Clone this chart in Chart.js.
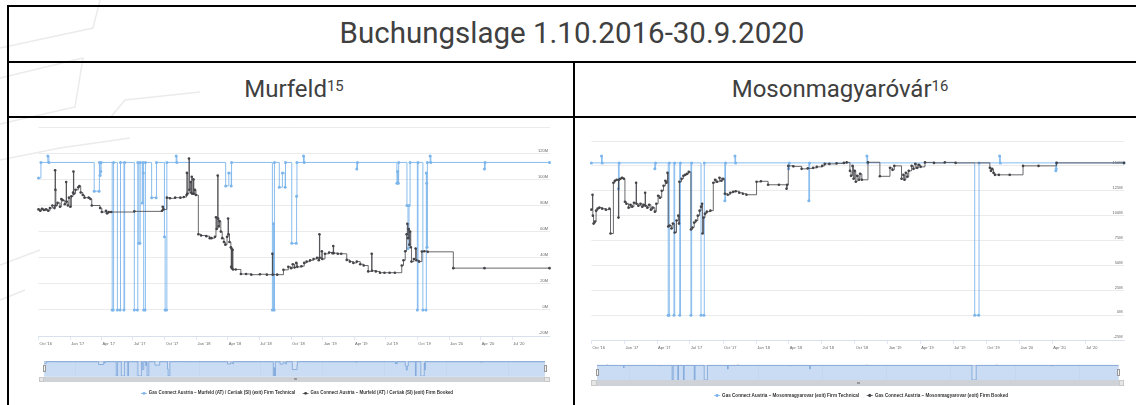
<!DOCTYPE html>
<html><head><meta charset="utf-8">
<script src="https://cdn.jsdelivr.net/npm/chart.js@4/dist/chart.umd.min.js"></script>
<style>
html,body{margin:0;padding:0;background:#fff;}
body{width:1136px;height:405px;position:relative;overflow:hidden;}
.bl{position:absolute;background:#000;}
.txt{position:absolute;white-space:nowrap;color:#404040;font-family:Roboto,'Liberation Sans',sans-serif;}
.txt sup{font-size:0.62em;position:relative;top:-0.42em;vertical-align:baseline;}
canvas{position:absolute;}
.mask{position:absolute;background:#d4e2f4;border-top:0.6px solid #b8c8de;box-sizing:border-box;}
.handle{position:absolute;background:#f2f2f2;border:0.5px solid #999;box-sizing:border-box;}
.sbar{position:absolute;background:#cfd2d6;}
.sbtn{position:absolute;background:#e6e6e6;border:0.5px solid #c8c8c8;box-sizing:border-box;}
.grip{position:absolute;width:0.5px;height:2.2px;background:#999;}
.legend{position:absolute;white-space:nowrap;font:bold 12px 'Liberation Sans',Arial,sans-serif;color:#333;transform-origin:0 50%;}
.legend .sym{display:inline-block;position:relative;width:16px;height:12px;vertical-align:middle;margin-right:5px;}
.legend .sym i{position:absolute;left:0;top:5px;width:16px;height:2px;}
.legend .sym b{position:absolute;left:4px;top:2px;width:8px;height:8px;border-radius:50%;}
</style>
</head><body>
<svg style="position:absolute;left:0;top:0" width="1136" height="405">
  <g fill="none" stroke="#ebebeb" stroke-width="1.5">
    <polyline points="0,48 93,28 100,0"/>
    <polyline points="0,78 83,58 75,107 0,124"/>
    <polyline points="0,160 60,148 130,138"/>
    <polyline points="110,118 125,100 200,92"/>
    <polyline points="0,265 40,250"/>
    <polyline points="0,300 25,290"/>
  </g>
</svg>
<div class="bl" style="left:7px;top:5px;width:1129px;height:2px"></div>
<div class="bl" style="left:7px;top:60.5px;width:1129px;height:2px"></div>
<div class="bl" style="left:7px;top:116px;width:1129px;height:2px"></div>
<div class="bl" style="left:7px;top:5px;width:2px;height:400px"></div>
<div class="bl" style="left:572.5px;top:61px;width:2px;height:344px"></div>

<div class="txt" id="t0" style="font-size:29.5px;">Buchungslage 1.10.2016-30.9.2020</div>
<div class="txt" id="t1" style="font-size:24px;">Murfeld<sup>15</sup></div>
<div class="txt" id="t2" style="font-size:24px;">Mosonmagyaróvár<sup>16</sup></div>

<canvas id="mainL" width="530" height="240" style="left:30px;top:117px;width:530px;height:240px"></canvas>
<canvas id="mainR" width="556" height="230" style="left:580px;top:131px;width:556px;height:230px"></canvas>

<div class="mask" style="left:44px;top:361px;width:501px;height:15.5px"></div>
<div class="mask" style="left:597px;top:364.5px;width:521.5px;height:15.5px"></div>
<canvas id="navL" width="518" height="22" style="left:38px;top:355px;width:518px;height:22px"></canvas>
<canvas id="navR" width="540" height="22" style="left:590px;top:359px;width:540px;height:22px"></canvas>

<div class="handle" style="left:42.5px;top:365px;width:3px;height:7px"></div>
<div class="handle" style="left:543.5px;top:365px;width:3px;height:7px"></div>
<div class="handle" style="left:595.5px;top:368.5px;width:3px;height:7px"></div>
<div class="handle" style="left:1117px;top:368.5px;width:3px;height:7px"></div>

<div class="sbar" style="left:38.5px;top:376.5px;width:511px;height:5.5px"></div>
<div class="sbtn" style="left:38.5px;top:376.5px;width:5.5px;height:5.5px"></div>
<div class="sbtn" style="left:544px;top:376.5px;width:5.5px;height:5.5px"></div>
<div class="grip" style="left:293.5px;top:378.2px"></div><div class="grip" style="left:294.7px;top:378.2px"></div><div class="grip" style="left:295.9px;top:378.2px"></div>
<div class="sbar" style="left:591.4px;top:380px;width:532.6px;height:5.5px"></div>
<div class="sbtn" style="left:591.4px;top:380px;width:5.5px;height:5.5px"></div>
<div class="sbtn" style="left:1118.5px;top:380px;width:5.5px;height:5.5px"></div>
<div class="grip" style="left:856.5px;top:381.7px"></div><div class="grip" style="left:857.7px;top:381.7px"></div><div class="grip" style="left:858.9px;top:381.7px"></div>

<div class="legend" id="legL"><span class="sym"><i style="background:#7cb5ec"></i><b style="background:#7cb5ec"></b></span>Gas Connect Austria – Murfeld (AT) / Ceršak (SI) (exit) Firm Technical<span style="display:inline-block;width:20px"></span><span class="sym"><i style="background:#434348"></i><b style="background:#434348"></b></span>Gas Connect Austria – Murfeld (AT) / Ceršak (SI) (exit) Firm Booked</div>
<div class="legend" id="legR"><span class="sym"><i style="background:#7cb5ec"></i><b style="background:#7cb5ec"></b></span>Gas Connect Austria – Mosonmagyarovar (exit) Firm Technical<span style="display:inline-block;width:20px"></span><span class="sym"><i style="background:#434348"></i><b style="background:#434348"></b></span>Gas Connect Austria – Mosonmagyarovar (exit) Firm Booked</div>

<script>
// ---- axis categories (days since 1 Oct 2016) ----
const xMaxDay = 1477;
const quarterDays = [0,92,182,273,365,457,547,638,730,822,912,1003,1095,1187,1278,1369];
const quarterLabels = ["Oct '16","Jan '17","Apr '17","Jul '17","Oct '17","Jan '18","Apr '18","Jul '18","Oct '18","Jan '19","Apr '19","Jul '19","Oct '19","Jan '20","Apr '20","Jul '20"];
const navTickDays = [92,273,457,638,822,1003,1187,1369];
const navTickLabels = ["Jan '17","Jul '17","Jan '18","Jul '18","Jan '19","Jul '19","Jan '20","Jul '20"];
const murfeldYTicks = [-20,0,20,40,60,80,100,120,140];
const mosonYTicks = [-25,0,25,50,75,100,125,150,175];

// ---- Murfeld: Firm Technical (M) ----
const murfeldTechDays = [0,7,27,30,161,175,176,178,180,181,213,216,217,228,236,237,247,249,277,286,287,290,293,294,300,302,303,304,308,309,327,340,341,364,366,370,371,398,400,541,550,557,558,676,679,681,682,696,705,713,714,732,745,746,747,766,768,920,922,1036,1038,1040,1041,1065,1068,1071,1074,1095,1097,1111,1120,1121,1122,1123,1124,1132,1134,1289,1291,1477];
const murfeldTechValues = [101,113,118,113,91,91,113,103,106,113,0,0,113,0,0,113,0,113,0,0,113,51,51,113,82,113,105,0,0,113,86,86,113,56,0,0,113,118,113,95,105,95,113,0,66,0,113,94,105,94,113,51,51,87,113,118,113,108,113,97,106,97,113,80,47,80,113,0,113,0,0,105,97,48,113,118,113,108,113,113];

// ---- Murfeld: Firm Booked (M) ----
const murfeldBookedDays = [0,5,10,16,22,28,33,40,46,48,49,50,55,62,66,70,76,80,81,85,88,92,95,100,101,102,107,115,118,122,128,133,145,150,154,178,183,195,198,203,210,277,357,359,361,371,380,395,410,420,428,429,430,435,436,440,441,443,444,448,449,452,455,462,470,485,495,500,510,513,515,518,519,521,523,527,531,536,540,545,548,549,552,556,557,558,559,561,562,570,585,600,615,640,660,676,677,690,708,722,730,735,740,745,748,760,768,775,785,795,805,810,812,813,819,820,828,840,850,852,853,865,875,891,900,910,920,930,940,953,963,964,975,987,1000,1015,1030,1050,1055,1060,1064,1066,1068,1070,1072,1074,1076,1078,1085,1090,1092,1100,1108,1115,1125,1199,1289,1477];
const murfeldBookedValues = [77,76,77.5,76.5,77,76,78,80,78,107,92,80,82,79,85,84,81,98,83,80,86,79,87,90,106,89,92,94,95,90,88,86,86,85,80,78,75,76,74,75,75,75.5,76,79,77,86,85.5,86,86,86.5,88,105,89,116,92,98,90,102,89,100,89,92,88,58,57,56.5,55,55,56,71,62,103,70,64,68,60,55,52,50,56,70,58,52,48,33,47,32,46,31,31,27.5,27.5,27,27.3,27,43,27,27,30.7,33,32,35,32.5,36,33,33.5,36,37,38,39,40,38,58,40,45,39,43,44,43.5,49,43.5,43,43,38.3,37,36,37,35,34,29.5,43,30,29.5,28.5,28.5,28.5,28.5,34,38,45,58,66,55,62,50,60,48,37,39,47,38,37,44.7,45,44.5,32,32,32];

// ---- Mosonmagyaróvár: Firm Technical (M) ----
const mosonTechDays = [0,28,30,75,77,176,178,213,215,216,229,231,245,247,276,278,304,312,313,370,372,398,400,547,549,603,605,764,766,1063,1074,1075,1132,1134,1288,1289,1290,1477];
const mosonTechValues = [153,160,153,127,153,147,153,0,0,153,0,153,0,153,0,153,0,0,153,115,153,160,153,147,153,115,153,160,153,0,0,153,160,153,145,147,153,153];

// ---- Mosonmagyaróvár: Firm Booked (M) ----
const mosonBookedDays = [0,3,4,6,10,13,17,22,30,40,50,53,61,65,70,75,76,80,85,90,93,97,103,108,113,118,124,125,130,136,141,145,149,150,155,160,165,170,176,180,185,190,195,200,205,208,211,213,217,222,226,231,236,241,243,244,250,255,260,265,270,276,280,285,290,295,300,304,307,308,311,315,320,330,338,343,348,355,360,365,370,378,385,393,400,410,420,430,458,470,490,520,541,543,546,560,583,600,615,625,640,647,660,680,700,708,717,720,724,727,730,733,737,742,745,750,767,800,828,835,840,860,865,868,872,876,880,888,893,898,903,908,913,925,950,980,1010,1105,1108,1111,1115,1119,1130,1160,1197,1240,1290,1477];
const mosonBookedValues = [106,121,100,92,94,105,107,108,107,106,107,82,133,135,136,98,136,137,138,137,114,112,108,111,109,113,133,112,110,112,109,111,123,110,108,111,106,108,104,112,120,118,125,130,135,133,143,89,90,87,92,83,95,100,92,134,137,140,141,142,144,86,88,93,95,100,105,109,112,82,98,102,104,105,133,136,134,138,135,137,122,121,123,124,124.5,123,122,121,134,134.5,131,131,127,131,150,149.5,147,147.5,148,149,150,152,152,152.5,153,153.5,145,140,150,137,145,134,140,136,142,136,153.6,139.5,148,146,150,137,141,136,143,139,145,150,147,152,148,151,149,153.5,153,153.5,153,148,145,147,143,141,141,141,150,150,153,153];

const FONT = "'Liberation Sans', Arial, sans-serif";
const pts = (d, v) => d.map((x, i) => ({x: x, y: v[i]}));

function mainChart(id, techD, techV, bookD, bookV, yTicks, pad) {
  const yMax = yTicks[yTicks.length - 1];
  return new Chart(document.getElementById(id), {
    type: 'line',
    data: { datasets: [
      { data: pts(techD, techV), borderColor: '#7cb5ec', backgroundColor: '#7cb5ec', borderWidth: 0.9,
        pointRadius: 1.5, pointBorderWidth: 0, stepped: 'before', clip: false, order: 2 },
      { data: pts(bookD, bookV), borderColor: '#434348', backgroundColor: '#434348', borderWidth: 0.8,
        pointRadius: 1.3, pointBorderWidth: 0, stepped: 'before', clip: false, order: 1 }
    ]},
    options: {
      responsive: false, animation: false, events: [],
      layout: { padding: pad },
      plugins: { legend: { display: false }, tooltip: { enabled: false } },
      scales: {
        x: { type: 'linear', min: 0, max: xMaxDay,
          afterBuildTicks: s => { s.ticks = quarterDays.map(v => ({value: v})); },
          afterFit: s => { s.height = 20; },
          ticks: { autoSkip: false, maxRotation: 0, align: 'start', padding: 1.5, labelOffset: 1,
            font: { size: 4, family: FONT }, color: '#666',
            callback: (v, i) => quarterLabels[i] },
          grid: { drawOnChartArea: false, drawTicks: true, tickLength: 4, color: '#ccd6eb', lineWidth: 0.6 },
          border: { color: '#ccd6eb', width: 0.6 } },
        y: { position: 'right', min: yTicks[0], max: yMax,
          afterBuildTicks: s => { s.ticks = yTicks.map(v => ({value: v})); },
          afterFit: s => { s.width = 0; },
          ticks: { mirror: true, padding: -1.5, labelOffset: -2.8,
            font: { size: 4, family: FONT }, color: '#666',
            callback: v => (v === yMax ? '' : v + 'M') },
          grid: { color: '#e6e6e6', lineWidth: 0.8, drawTicks: false },
          border: { display: false } }
      }
    }
  });
}

function navChart(id, techD, techV, yMax, pad) {
  return new Chart(document.getElementById(id), {
    type: 'line',
    data: { datasets: [
      { data: pts(techD, techV), borderColor: '#6e9bd6', backgroundColor: 'rgba(124,181,236,0.12)',
        borderWidth: 0.7, pointRadius: 0, stepped: 'before', fill: 'start' }
    ]},
    options: {
      responsive: false, animation: false, events: [],
      layout: { padding: pad },
      plugins: { legend: { display: false }, tooltip: { enabled: false } },
      scales: {
        x: { type: 'linear', min: 0, max: xMaxDay,
          afterBuildTicks: s => { s.ticks = navTickDays.map(v => ({value: v})); },
          afterFit: s => { s.height = 0; },
          ticks: { autoSkip: false, maxRotation: 0, align: 'start', padding: -4.6, labelOffset: 1,
            font: { size: 4, family: FONT }, color: '#777',
            callback: (v, i) => navTickLabels[i] },
          grid: { drawTicks: false, color: 'rgba(0,0,0,0.05)', lineWidth: 0.6 },
          border: { display: false } },
        y: { display: false, min: 0, max: yMax }
      }
    }
  });
}

mainChart('mainL', murfeldTechDays, murfeldTechValues, murfeldBookedDays, murfeldBookedValues, murfeldYTicks,
  { left: 8.5, right: 10.5, top: 10.2, bottom: 1 });
mainChart('mainR', mosonTechDays, mosonTechValues, mosonBookedDays, mosonBookedValues, mosonYTicks,
  { left: 11.4, right: 12, top: 10, bottom: 1 });
navChart('navL', murfeldTechDays, murfeldTechValues, 119, { left: 6, right: 11, top: 6, bottom: 1 });
navChart('navR', mosonTechDays, mosonTechValues, 161, { left: 7, right: 12, top: 5.5, bottom: 1 });

// ---- place texts ----
function place(id, cx, cy) {
  const el = document.getElementById(id);
  const r = el.getBoundingClientRect();
  el.style.left = (cx - r.width / 2) + 'px';
  el.style.top = (cy - r.height / 2) + 'px';
}
place('t0', 572, 33);
place('t1', 294, 89);
place('t2', 840, 89);

function placeLegend(id, x0, x1, cy) {
  const el = document.getElementById(id);
  const w = el.getBoundingClientRect().width;
  const s = (x1 - x0) / w;
  el.style.transform = 'scale(' + s + ')';
  el.style.left = x0 + 'px';
  el.style.top = (cy - el.offsetHeight / 2) + 'px';
}
placeLegend('legL', 140.7, 452.8, 392.7);
placeLegend('legR', 714, 1008, 395.2);
</script>
</body></html>
